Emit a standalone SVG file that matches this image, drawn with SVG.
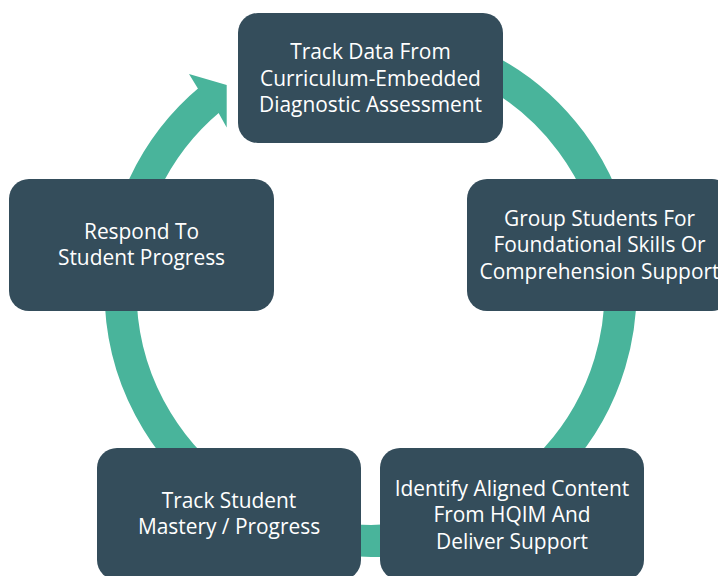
<svg xmlns="http://www.w3.org/2000/svg" width="718" height="576" viewBox="0 0 718 576">
  <style>
    .node rect { fill: #344D5B; }
    .node text { fill: #FFFFFF; font-family: "Open Sans", "Noto Sans", "Liberation Sans", sans-serif; font-size: 20.9px; text-anchor: middle; }
    .ring { fill: none; stroke: #49B49B; stroke-width: 32; stroke-linecap: butt; }
    .head { fill: #49B49B; }
  </style>
  <rect x="0" y="0" width="718" height="576" fill="#FFFFFF"/>
  <g id="connectors">
    <path class="ring" d="M 210.8 98.65 A 250 250 0 1 0 370.5 41"/>
    <polygon class="head" points="189,74 226.7,85 226.7,127.5 218.6,112.9 197.9,88.6"/>
  </g>
  <g id="node-track-data" class="node">
    <rect x="238" y="13" width="265" height="130" rx="20" ry="20"/>
    <text x="370.5" y="59">Track Data From</text>
    <text x="370.5" y="85.5">Curriculum-Embedded</text>
    <text x="370.5" y="112">Diagnostic Assessment</text>
  </g>
  <g id="node-group-students" class="node">
    <rect x="467" y="179" width="265" height="132" rx="20" ry="20"/>
    <text x="599.5" y="225.5">Group Students For</text>
    <text x="599.5" y="252">Foundational Skills Or</text>
    <text x="599.5" y="278.5">Comprehension Support</text>
  </g>
  <g id="node-identify" class="node">
    <rect x="380" y="448" width="264" height="132" rx="20" ry="20"/>
    <text x="512" y="495.5">Identify Aligned Content</text>
    <text x="512" y="522">From HQIM And</text>
    <text x="512" y="548.5">Deliver Support</text>
  </g>
  <g id="node-track-mastery" class="node">
    <rect x="97" y="448" width="264" height="132" rx="20" ry="20"/>
    <text x="229" y="508">Track Student</text>
    <text x="229" y="534">Mastery / Progress</text>
  </g>
  <g id="node-respond" class="node">
    <rect x="9" y="179" width="265" height="132" rx="20" ry="20"/>
    <text x="141.5" y="238.5">Respond To</text>
    <text x="141.5" y="265">Student Progress</text>
  </g>
</svg>
